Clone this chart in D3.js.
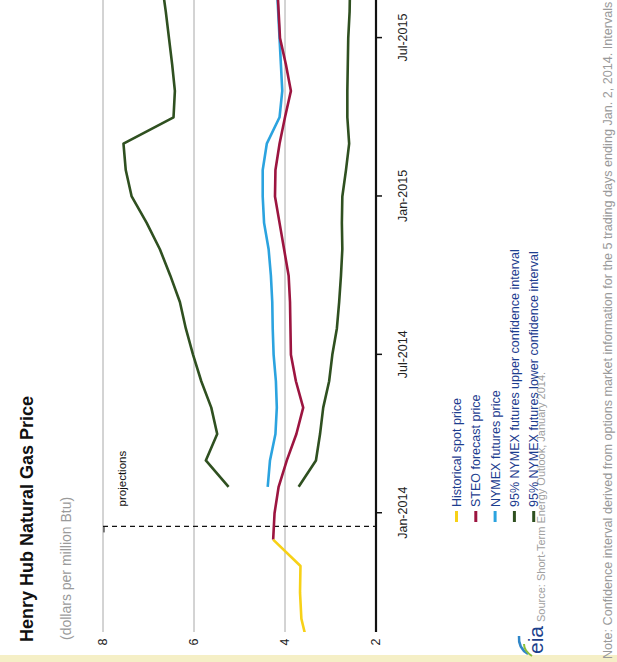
<!DOCTYPE html>
<html>
<head>
<meta charset="utf-8">
<script src="https://cdn.jsdelivr.net/npm/d3@7"></script>
<style>
  body { margin: 0; background: #fff; }
  text { font-family: "Liberation Sans", Arial, sans-serif; }
</style>
</head>
<body>
<svg width="617" height="662"></svg>
<script>

// monthly values, dollars per million Btu
var histMonths = ["2013-08", "2013-09", "2013-10", "2013-11", "2013-12"];
var histPrice = [3.50, 3.64, 3.67, 3.66, 4.26];

var steoMonths = ["2013-12", "2014-01", "2014-02", "2014-03", "2014-04", "2014-05", "2014-06",
  "2014-07", "2014-08", "2014-09", "2014-10", "2014-11", "2014-12", "2015-01", "2015-02",
  "2015-03", "2015-04", "2015-05", "2015-06", "2015-07", "2015-08", "2015-09"];
var steoPrice = [4.26, 4.23, 4.14, 3.96, 3.75, 3.60, 3.76, 3.87, 3.88, 3.89, 3.92, 4.02,
  4.12, 4.22, 4.21, 4.12, 4.00, 3.87, 3.98, 4.11, 4.14, 4.17];

var futMonths = ["2014-02", "2014-03", "2014-04", "2014-05", "2014-06", "2014-07", "2014-08",
  "2014-09", "2014-10", "2014-11", "2014-12", "2015-01", "2015-02", "2015-03", "2015-04",
  "2015-05", "2015-06", "2015-07", "2015-08", "2015-09"];
var nymexPrice = [4.38, 4.33, 4.21, 4.18, 4.20, 4.25, 4.27, 4.28, 4.31, 4.36, 4.46, 4.49,
  4.49, 4.40, 4.12, 4.06, 4.09, 4.12, 4.15, 4.18];
var upperCI = [5.24, 5.74, 5.49, 5.62, 5.84, 6.02, 6.18, 6.31, 6.52, 6.75, 7.04, 7.37,
  7.50, 7.55, 6.45, 6.42, 6.48, 6.55, 6.62, 6.70];
var lowerCI = [3.70, 3.32, 3.23, 3.16, 3.03, 2.96, 2.86, 2.81, 2.77, 2.74, 2.75, 2.74,
  2.66, 2.59, 2.63, 2.63, 2.62, 2.61, 2.58, 2.57];

var tickMonths = ["2014-01", "2014-07", "2015-01", "2015-07"];
var tickLabels = ["Jan-2014", "Jul-2014", "Jan-2015", "Jul-2015"];
var priceTicks = [2, 4, 6, 8];

var legendNames = ["Historical spot price", "STEO forecast price", "NYMEX futures price",
  "95% NYMEX futures upper confidence interval", "95% NYMEX futures lower confidence interval"];
var legendColors = ["#f7d117", "#9c1540", "#2ba3df", "#2f5020", "#2f5020"];

// months counted from Jan 2014
function monthIndex(s) {
  var p = s.split("-");
  return (+p[0] - 2014) * 12 + (+p[1] - 1);
}
function zip(ms, vs) {
  return ms.map(function (m, i) { return { m: monthIndex(m), v: vs[i] }; });
}

var svg = d3.select("svg");
svg.append("rect").attr("width", 617).attr("height", 662).attr("fill", "#fff");
svg.append("rect").attr("x", 0).attr("y", 655).attr("width", 617).attr("height", 7).attr("fill", "#f5efc6");

// the page is scanned sideways: draw upright, then turn it
var g = svg.append("g").attr("transform", "translate(0,662) rotate(-90)");

var x = d3.scaleLinear().domain([-4.5, 19.5]).range([30, 663.5]);
var y = d3.scaleLinear().domain([2, 8]).range([376, 103]);

// title
g.append("text").attr("x", 20).attr("y", 33)
  .style("font-size", "18px").style("font-weight", "bold").attr("fill", "#111")
  .text("Henry Hub Natural Gas Price");
g.append("text").attr("x", 22).attr("y", 71)
  .style("font-size", "14px").attr("fill", "#9a9a9a")
  .text("(dollars per million Btu)");

// gridlines
g.selectAll(".grid").data(priceTicks.slice(1)).enter().append("line")
  .attr("x1", 30).attr("x2", 663)
  .attr("y1", function (d) { return y(d); }).attr("y2", function (d) { return y(d); })
  .attr("stroke", "#a8a8a8").attr("stroke-width", 1);

g.selectAll(".plab").data(priceTicks).enter().append("text")
  .attr("x", 20).attr("y", function (d) { return y(d); }).attr("dy", "0.35em")
  .attr("text-anchor", "middle").style("font-size", "12.5px").attr("fill", "#222")
  .text(function (d) { return d; });

// projections marker
var projX = x(-0.5);
g.append("line").attr("x1", projX).attr("x2", projX).attr("y1", y(8)).attr("y2", y(2))
  .attr("stroke", "#111").attr("stroke-width", 1.2).attr("stroke-dasharray", "5,4");
g.append("line").attr("x1", projX - 6).attr("x2", projX).attr("y1", y(8) + 1).attr("y2", y(8) + 1)
  .attr("stroke", "#111").attr("stroke-width", 1);
g.append("text").attr("x", projX + 20).attr("y", 126)
  .style("font-size", "11.5px").attr("fill", "#111").text("projections");

// data lines
g.append("clipPath").attr("id", "plot").append("rect")
  .attr("x", 30).attr("y", 0).attr("width", 640).attr("height", 617);

var line = d3.line().x(function (d) { return x(d.m); }).y(function (d) { return y(d.v); });
var series = [zip(futMonths, lowerCI), zip(futMonths, upperCI), zip(futMonths, nymexPrice),
  zip(steoMonths, steoPrice), zip(histMonths, histPrice)];
var seriesColors = [legendColors[4], legendColors[3], legendColors[2], legendColors[1], legendColors[0]];

g.append("g").attr("clip-path", "url(#plot)")
  .selectAll("path").data(series).enter().append("path")
  .attr("d", line).attr("fill", "none")
  .attr("stroke", function (d, i) { return seriesColors[i]; })
  .attr("stroke-width", 2.6).attr("stroke-linejoin", "round");

// time axis
var axis = g.append("g").attr("transform", "translate(0," + y(2) + ")")
  .call(d3.axisBottom(x)
    .tickValues(tickMonths.map(monthIndex))
    .tickSize(6).tickPadding(16)
    .tickFormat(function (d, i) { return tickLabels[i]; }));
axis.select(".domain").remove();
axis.selectAll(".tick line").attr("stroke", "#111").attr("stroke-width", 1.5);
axis.selectAll(".tick text").style("font-size", "12.5px").attr("fill", "#222")
  .attr("font-family", null);
g.append("line").attr("x1", 30).attr("x2", 663).attr("y1", y(2)).attr("y2", y(2))
  .attr("stroke", "#111").attr("stroke-width", 2.2);

// source and logo
g.append("text").attr("x", 40).attr("y", 545)
  .style("font-size", "11px").attr("fill", "#a0a0a0")
  .text("Source: Short-Term Energy Outlook, January 2014.");
g.append("text").attr("x", 8).attr("y", 543)
  .style("font-size", "21px").attr("fill", "#1c3f8c").text("eia");
g.append("path").attr("d", "M8,528 Q14,518 26,519").attr("fill", "none")
  .attr("stroke", "#2f86c8").attr("stroke-width", 2.5);
g.append("path").attr("d", "M6,532 Q11,524 18,524").attr("fill", "none")
  .attr("stroke", "#8bbf3c").attr("stroke-width", 2);

// legend
var leg = g.selectAll(".leg").data(legendNames).enter().append("g")
  .attr("transform", function (d, i) { return "translate(140," + (456.5 + i * 19.3) + ")"; });
leg.append("line").attr("x1", 0).attr("x2", 11).attr("y1", 0).attr("y2", 0)
  .attr("stroke", function (d, i) { return legendColors[i]; }).attr("stroke-width", 3);
leg.append("text").attr("x", 15).attr("y", 4.5)
  .style("font-size", "12.5px").attr("fill", "#1d3d8f")
  .text(function (d) { return d; });

// note along the foot (the scan cuts it after "Intervals")
g.append("text").attr("x", 3).attr("y", 612)
  .style("font-size", "12.6px").attr("fill", "#9a9a9a")
  .text("Note: Confidence interval derived from options market information for the 5 trading days ending Jan. 2, 2014. Intervals");

</script>
</body>
</html>
